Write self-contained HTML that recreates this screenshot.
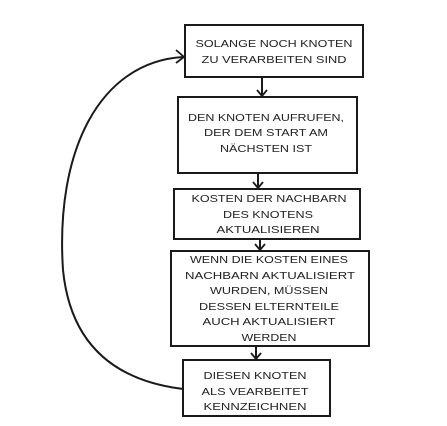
<!DOCTYPE html>
<html><head><meta charset="utf-8"><style>
html,body{margin:0;padding:0;background:#fff;width:447px;height:426px;overflow:hidden}
text{font-family:"Liberation Sans",sans-serif;font-size:10.5px;fill:#222;text-anchor:middle}
</style></head><body>
<svg width="447" height="426" viewBox="0 0 447 426" xmlns="http://www.w3.org/2000/svg">
<g fill="none" stroke="#1a1a1a" stroke-width="2">
<rect x="185" y="25" width="178" height="52"/>
<rect x="178" y="97" width="179" height="76"/>
<rect x="174" y="189" width="186" height="50"/>
<rect x="171" y="251" width="198" height="95"/>
<rect x="183" y="360" width="147" height="56"/>
<line x1="262" y1="77" x2="262" y2="96"/>
<line x1="258" y1="173" x2="258" y2="188"/>
<line x1="260" y1="239" x2="260" y2="250"/>
<line x1="256" y1="346" x2="256" y2="359"/>
<path d="M183,389 C110,380 70,340 63,270 C55,150 100,62 183,57"/>
</g>
<g fill="none" stroke="#1a1a1a" stroke-width="1.8">
<path d="M257,90 L262,96 L267,90"/>
<path d="M253,182 L258,188 L263,182"/>
<path d="M255,244 L260,250 L265,244"/>
<path d="M251,353 L256,359 L261,353"/>
<path d="M176,50 L184,57 L176,63"/>
</g>
<g lengthAdjust="spacingAndGlyphs">
<text x="274" y="47" textLength="157" lengthAdjust="spacingAndGlyphs">SOLANGE NOCH KNOTEN</text>
<text x="274" y="63" textLength="145" lengthAdjust="spacingAndGlyphs">ZU VERARBEITEN SIND</text>
<text x="266" y="121" textLength="156" lengthAdjust="spacingAndGlyphs">DEN KNOTEN AUFRUFEN,</text>
<text x="266" y="136" textLength="124" lengthAdjust="spacingAndGlyphs">DER DEM START AM</text>
<text x="266" y="152" textLength="92" lengthAdjust="spacingAndGlyphs">NÄCHSTEN IST</text>
<text x="269" y="202" textLength="155" lengthAdjust="spacingAndGlyphs">KOSTEN DER NACHBARN</text>
<text x="268" y="218" textLength="90" lengthAdjust="spacingAndGlyphs">DES KNOTENS</text>
<text x="268" y="233" textLength="103" lengthAdjust="spacingAndGlyphs">AKTUALISIEREN</text>
<text x="269" y="263" textLength="158" lengthAdjust="spacingAndGlyphs">WENN DIE KOSTEN EINES</text>
<text x="270" y="279" textLength="170" lengthAdjust="spacingAndGlyphs">NACHBARN AKTUALISIERT</text>
<text x="269" y="294" textLength="118" lengthAdjust="spacingAndGlyphs">WURDEN, MÜSSEN</text>
<text x="269" y="310" textLength="140" lengthAdjust="spacingAndGlyphs">DESSEN ELTERNTEILE</text>
<text x="269" y="325" textLength="133" lengthAdjust="spacingAndGlyphs">AUCH AKTUALISIERT</text>
<text x="269" y="341" textLength="55" lengthAdjust="spacingAndGlyphs">WERDEN</text>
<text x="255" y="379" textLength="103" lengthAdjust="spacingAndGlyphs">DIESEN KNOTEN</text>
<text x="255" y="395" textLength="107" lengthAdjust="spacingAndGlyphs">ALS VEARBEITET</text>
<text x="255" y="410" textLength="103" lengthAdjust="spacingAndGlyphs">KENNZEICHNEN</text>
</g>
</svg>
</body></html>
